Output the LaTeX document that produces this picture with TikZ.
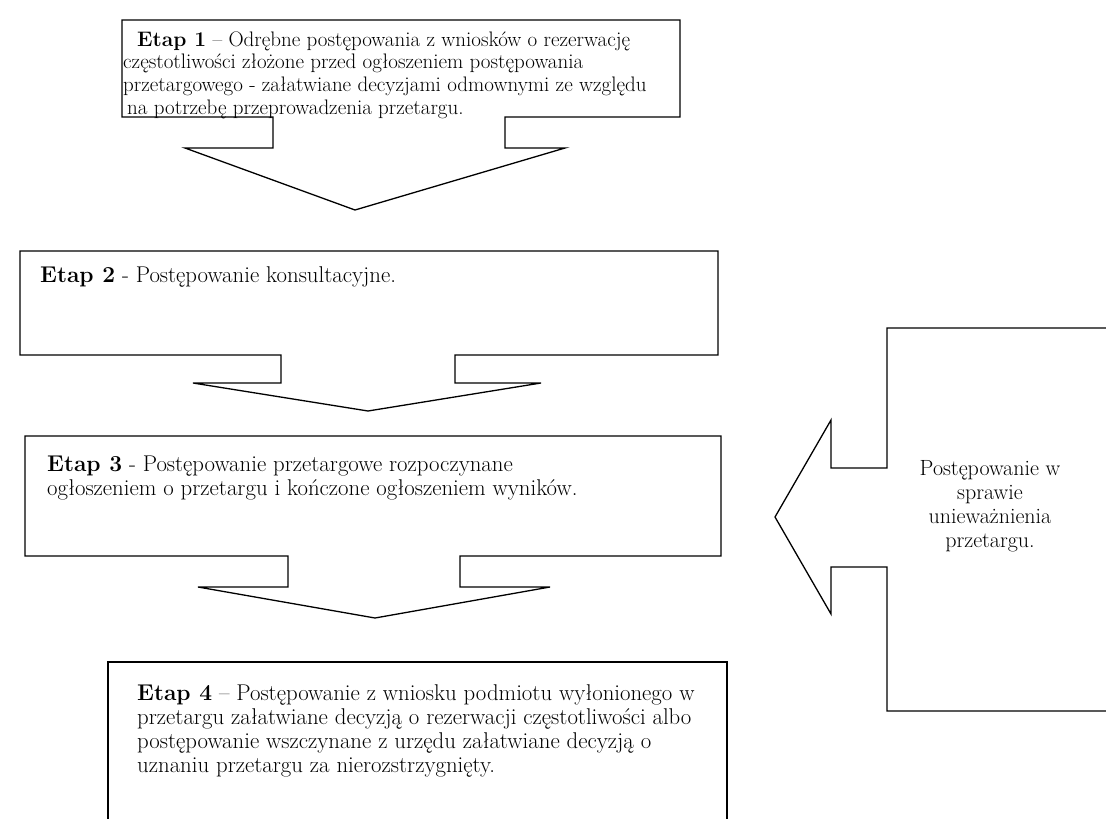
\documentclass[tikz,border=0pt]{standalone}
\usepackage{fontspec}
\newcommand\lftlines[1]{\vtop{\halign{##\hfil\cr#1\crcr}}}
\newcommand\ctrlines[1]{\vtop{\halign{\hfil##\hfil\cr#1\crcr}}}
\begin{document}
\begin{tikzpicture}[x=1pt,y=-1pt,
  outline/.style={draw=black,line width=1.3pt,line join=miter},
  heavy/.style={draw=black,line width=2.4pt},
  txt/.style={inner sep=0pt,anchor=base west,font=\fontsize{22.8}{24.3}\selectfont},
  txtsmall/.style={txt,font=\fontsize{21}{22.7}\selectfont},
  txtc/.style={inner sep=0pt,anchor=base,font=\fontsize{22}{24.3}\selectfont}]
\useasboundingbox (0,0) rectangle (1106,819);

% Etap 1 callout
\draw[outline] (273,117) -- (122,117) -- (122,20) -- (680,20) -- (680,117) -- (505,117)
  -- (505,148) -- (565,148) -- (355,210) -- (185,148) -- (273,148) -- cycle;
% Etap 2 callout
\draw[outline] (281,355) -- (20,355) -- (20,251) -- (718,251) -- (718,355) -- (455,355)
  -- (455,383) -- (541,383) -- (368,411) -- (193,383) -- (281,383) -- cycle;
% Etap 3 callout
\draw[outline] (288,556) -- (25,556) -- (25,436) -- (721,436) -- (721,556) -- (460,556)
  -- (460,587) -- (550,587) -- (375,618) -- (198,587) -- (288,587) -- cycle;
% Etap 4 box
\draw[heavy] (108,830) -- (108,662) -- (727,662) -- (727,830);
% left arrow callout
\draw[outline] (1115,328) -- (887,328) -- (887,468) -- (831,468) -- (831,420) -- (775,517)
  -- (831,614) -- (831,567) -- (887,567) -- (887,711) -- (1115,711);

\node[txtsmall] (t1) at (123,46) {\lftlines{\hspace{14pt}\textbf{Etap 1} – Odrębne postępowania z wniosków o rezerwację\cr
częstotliwości złożone przed ogłoszeniem postępowania\cr
przetargowego - załatwiane decyzjami odmownymi ze względu\cr
\hspace{4pt}na potrzebę przeprowadzenia przetargu.}};
\node[txt] (t2) at (40,282) {\textbf{Etap 2} - Postępowanie konsultacyjne.};
\node[txt] (t3) at (47,471) {\lftlines{\textbf{Etap 3} - Postępowanie przetargowe rozpoczynane\cr
ogłoszeniem o przetargu i kończone ogłoszeniem wyników.}};
\node[txt] (t4) at (137,700) {\lftlines{\textbf{Etap 4} – Postępowanie z wniosku podmiotu wyłonionego w\cr
przetargu załatwiane decyzją o rezerwacji częstotliwości albo\cr
postępowanie wszczynane z urzędu załatwiane decyzją o\cr
uznaniu przetargu za nierozstrzygnięty.}};
\node[txtc] (t5) at (990,475) {\ctrlines{Postępowanie w\cr sprawie\cr unieważnienia\cr przetargu.}};
\end{tikzpicture}
\end{document}
